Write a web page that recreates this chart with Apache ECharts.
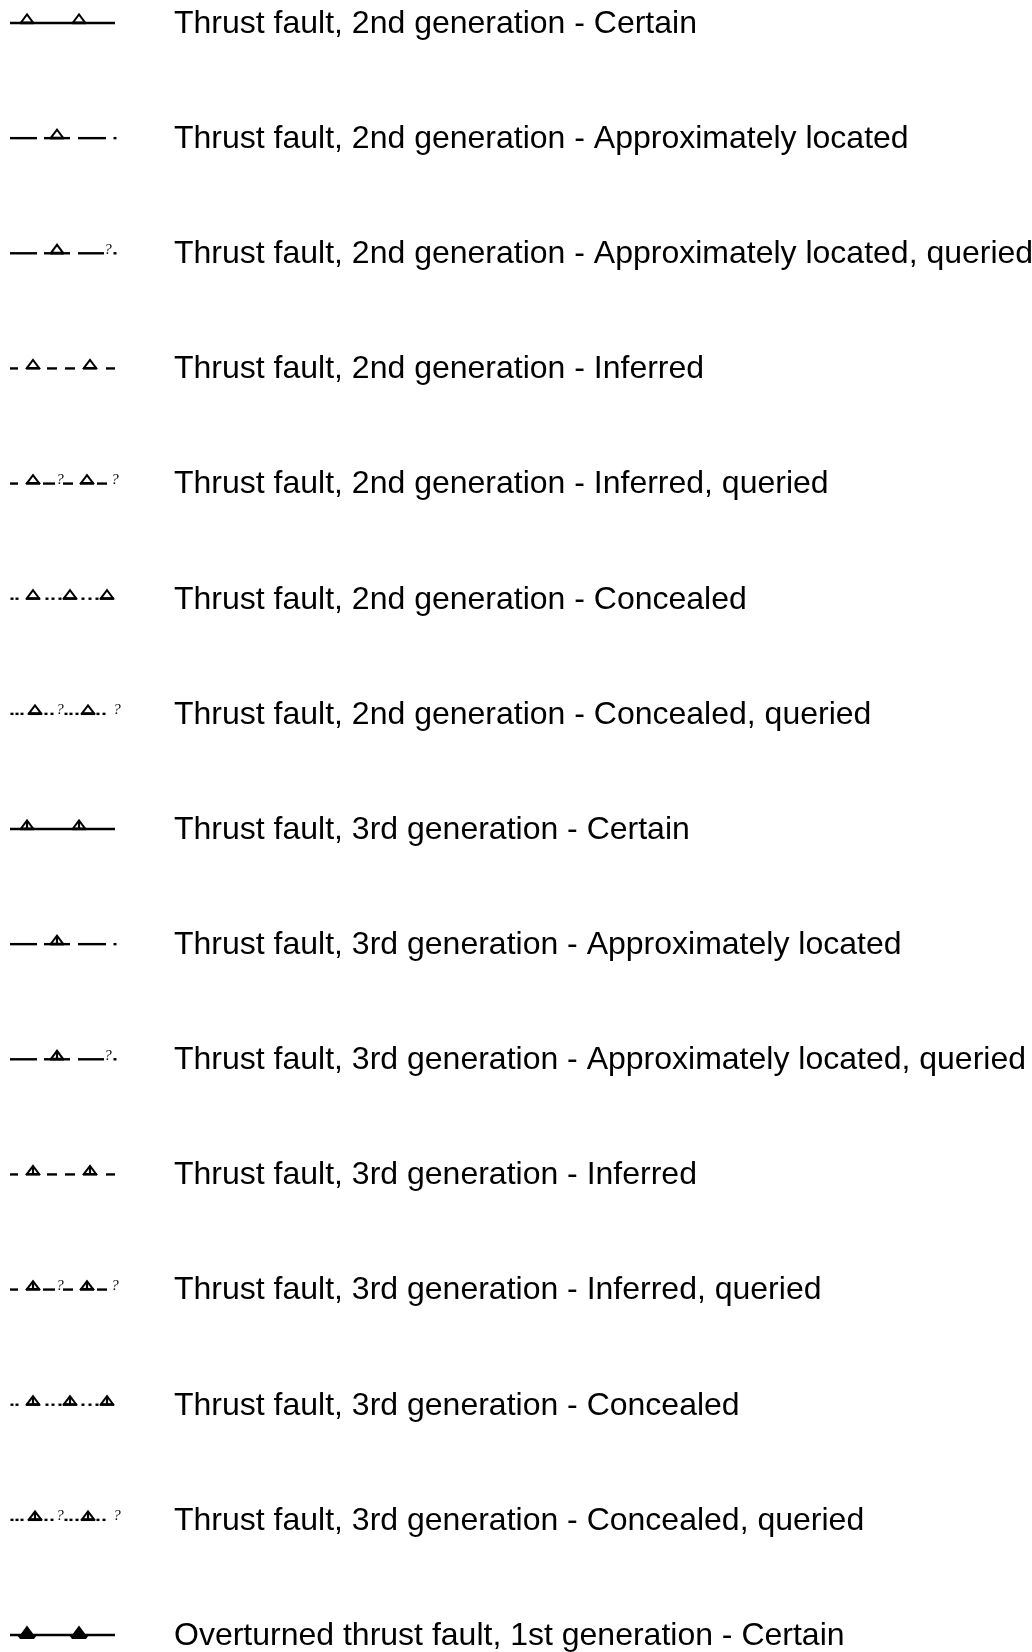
<!DOCTYPE html>
<html>
<head>
<meta charset="utf-8">
<script src="https://cdn.jsdelivr.net/npm/echarts@6/dist/echarts.min.js"></script>
<style>
html,body{margin:0;padding:0;background:#fff;}
#chart{width:1032px;height:1652px;}
</style>
</head>
<body>
<div id="chart"></div>
<script>
// ---- data ----
const labels = [
  "Thrust fault, 2nd generation - Certain",
  "Thrust fault, 2nd generation - Approximately located",
  "Thrust fault, 2nd generation - Approximately located, queried",
  "Thrust fault, 2nd generation - Inferred",
  "Thrust fault, 2nd generation - Inferred, queried",
  "Thrust fault, 2nd generation - Concealed",
  "Thrust fault, 2nd generation - Concealed, queried",
  "Thrust fault, 3rd generation - Certain",
  "Thrust fault, 3rd generation - Approximately located",
  "Thrust fault, 3rd generation - Approximately located, queried",
  "Thrust fault, 3rd generation - Inferred",
  "Thrust fault, 3rd generation - Inferred, queried",
  "Thrust fault, 3rd generation - Concealed",
  "Thrust fault, 3rd generation - Concealed, queried",
  "Overturned thrust fault, 1st generation - Certain"
];
const lineTypes = [
  "certain","approx","approxQ","inferred","inferredQ","concealed","concealedQ",
  "certain","approx","approxQ","inferred","inferredQ","concealed","concealedQ",
  "certain"
];
const generations = [2,2,2,2,2,2,2,3,3,3,3,3,3,3,1];

// ---- symbol patterns (style: offsets along the swatch) ----
const patterns = {
  certain:   {segs:[[10,115]], tris:[27,79], dots:[], qs:[]},
  approx:    {segs:[[10,37],[44,70],[78,106]], tris:[57], dots:[115], qs:[]},
  approxQ:   {segs:[[10,37],[44,70],[78,104]], tris:[57], dots:[115], qs:[108]},
  inferred:  {segs:[[10,18],[47,57],[65,75],[106,115]], tris:[33,90], dots:[], qs:[]},
  inferredQ: {segs:[[10,18],[43,55],[63,73],[97,107]], tris:[33,87], dots:[], qs:[60,115]},
  concealed: {segs:[], tris:[33,70,107], dots:[12,17,47,53,60,83,90,97], qs:[]},
  concealedQ:{segs:[], tris:[35,88], dots:[12,17,22,46,52,66,71,77,98,104], qs:[60,117]}
};

const chart = echarts.init(document.getElementById('chart'));
const data = labels.map((l, i) => [i]);

function renderItem(params, api) {
  const i = api.value(0);
  const type = lineTypes[i];
  const gen = generations[i];
  const pat = patterns[type];
  const y = api.coord([0, i])[1];
  const X = v => api.coord([v, i])[0];
  const children = [];
  pat.segs.forEach(s => {
    children.push({type:'line', shape:{x1:X(s[0]), y1:y, x2:X(s[1]), y2:y},
      style:{stroke:'#000', lineWidth:2.4}});
  });
  pat.dots.forEach(d => {
    children.push({type:'rect', shape:{x:X(d)-1.5, y:y-1.2, width:3, height:2.4},
      style:{fill:'#000'}});
  });
  pat.qs.forEach(q => {
    children.push({type:'text', style:{text:'?', x:X(q), y:y+4, align:'center', verticalAlign:'bottom',
      font:'italic 15px "Liberation Serif", serif', fill:'#000'}});
  });
  pat.tris.forEach(t => {
    const cx = X(t);
    if (gen === 1) {
      children.push({type:'polygon', shape:{points:[[cx-7,y],[cx,y-9.5],[cx+7,y]]},
        style:{fill:'#000'}});
      children.push({type:'polygon', shape:{points:[[cx-10,y],[cx+10,y],[cx+7,y+4],[cx-7,y+4]]},
        style:{fill:'#000'}});
    } else {
      children.push({type:'polygon', shape:{points:[[cx-6,y-0.5],[cx,y-8.5],[cx+6,y-0.5]]},
        style:{fill:'#fff', stroke:'#000', lineWidth:2, lineJoin:'miter'}});
      if (gen === 3) {
        children.push({type:'line', shape:{x1:cx, y1:y-7, x2:cx, y2:y},
          style:{stroke:'#000', lineWidth:2.2}});
      }
      children.push({type:'line', shape:{x1:cx-7, y1:y, x2:cx+7, y2:y},
        style:{stroke:'#000', lineWidth:2.4}});
    }
  });
  children.push({type:'text', style:{text:labels[i], x:X(174), y:y+1, align:'left', verticalAlign:'middle',
    font:'32px "Liberation Sans", Arial, sans-serif', fill:'#000'}});
  return {type:'group', children};
}

chart.setOption({
  animation:false,
  backgroundColor:'#fff',
  grid:{left:0, right:0, top:23, bottom:17},
  xAxis:{type:'value', min:0, max:1032, show:false},
  yAxis:{type:'value', min:0, max:14, inverse:true, show:false},
  series:[{type:'custom', renderItem, data, clip:false}]
});
</script>
</body>
</html>
